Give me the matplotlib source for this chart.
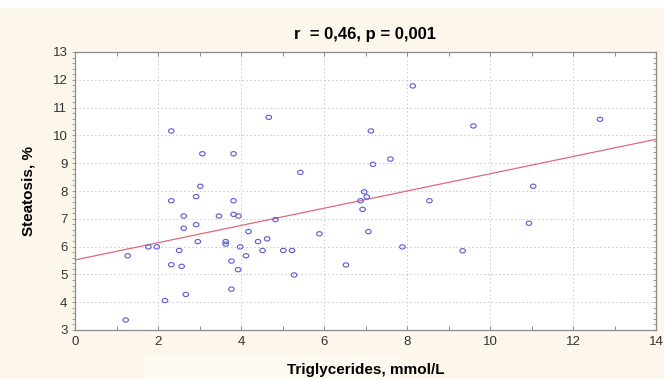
import numpy as np
import matplotlib
matplotlib.use("Agg")
import matplotlib.pyplot as plt
from matplotlib.path import Path
from matplotlib.transforms import Affine2D
from matplotlib.ticker import MultipleLocator

# Triglycerides (mmol/L) and steatosis (%)
triglycerides = [1.22, 1.27, 1.77, 1.97, 2.17, 2.32, 2.32, 2.32, 2.51, 2.57,
                 2.62, 2.62, 2.67, 2.92, 2.92, 2.96, 3.02, 3.07, 3.47, 3.63,
                 3.63, 3.77, 3.77, 3.82, 3.82, 3.82, 3.93, 3.94, 3.98, 4.12,
                 4.18, 4.41, 4.52, 4.63, 4.67, 4.83, 5.02, 5.23, 5.28, 5.43,
                 5.89, 6.53, 6.88, 6.93, 6.97, 7.03, 7.07, 7.13, 7.18, 7.60,
                 7.89, 8.14, 8.54, 9.34, 9.60, 10.94, 11.04, 12.65]
steatosis = [3.36, 5.67, 5.99, 5.99, 4.06, 5.35, 7.65, 10.16, 5.86, 5.29,
             6.66, 7.10, 4.28, 6.79, 7.80, 6.18, 8.17, 9.34, 7.10, 6.18,
             6.09, 4.47, 5.48, 7.65, 7.16, 9.34, 5.17, 7.10, 5.99, 5.67,
             6.54, 6.18, 5.86, 6.28, 10.65, 6.97, 5.86, 5.86, 4.98, 8.67,
             6.46, 5.34, 7.65, 7.34, 7.97, 7.79, 6.54, 10.16, 8.96, 9.15,
             5.99, 11.78, 7.65, 5.85, 10.34, 6.84, 8.17, 10.58]

# regression line as drawn in the chart
fit_intercept = 5.52
fit_slope = 0.31

title = "r  = 0,46, p = 0,001"
xlabel = "Triglycerides, mmol/L"
ylabel = "Steatosis, %"

plt.rcParams["font.family"] = ["Liberation Sans", "DejaVu Sans"]

cream = "#FCF7EA"
fig = plt.figure(figsize=(6.64, 3.79), dpi=100, facecolor=cream)
ax = fig.add_axes([75 / 664, 49 / 379, 581 / 664, 278 / 379])
ax.set_facecolor("white")

# white strip at the top and faint box behind the x label
fig.patches.append(plt.Rectangle((0, 1 - 8 / 379), 1, 8 / 379, transform=fig.transFigure,
                                 facecolor="white", edgecolor="none", zorder=-1))
fig.patches.append(plt.Rectangle((145 / 664, 0), 253 / 664, 24 / 379, transform=fig.transFigure,
                                 facecolor="#FEFAF2", edgecolor="none", zorder=-1))

# slightly squashed circle marker
ellipse = Path.unit_circle().transformed(Affine2D().scale(1.3, 1.0))
ax.scatter(triglycerides, steatosis, marker=ellipse, s=16, facecolors="none",
           edgecolors="#5B5BD6", linewidths=0.8, zorder=3)

xs = np.array([0, 14])
ax.plot(xs, fit_intercept + fit_slope * xs, color="#E0697A", linewidth=0.9, zorder=2)

ax.set_xlim(0, 14)
ax.set_ylim(3, 13)
ax.xaxis.set_major_locator(MultipleLocator(2))
ax.xaxis.set_minor_locator(MultipleLocator(1))
ax.yaxis.set_major_locator(MultipleLocator(1))
ax.yaxis.set_minor_locator(MultipleLocator(0.2))

ax.grid(True, which="major", linestyle=(0, (1.5, 2.5)), color="#C9C9C9", linewidth=0.7)
ax.set_axisbelow(True)

for s in ax.spines.values():
    s.set_color("#8C8C8C")
    s.set_linewidth(0.9)

ax.tick_params(axis="x", which="both", direction="in", top=True, bottom=True,
               color="#8C8C8C", length=3, width=0.7, labelsize=9.5, labelcolor="#333333", pad=4)
ax.tick_params(axis="y", which="both", direction="out", left=True, right=False,
               color="#8C8C8C", length=2.5, width=0.6, labelsize=9.5, labelcolor="#333333", pad=3)

# right-hand minor ticks pointing inward
ry = ax.secondary_yaxis("right")
ry.yaxis.set_major_locator(MultipleLocator(1))
ry.yaxis.set_minor_locator(MultipleLocator(0.2))
ry.tick_params(axis="y", which="both", direction="in", length=2.5, width=0.6,
               color="#8C8C8C", labelright=False)
ry.spines["right"].set_color("#8C8C8C")

ax.set_title(title, fontsize=12, fontweight="bold", pad=9)
ax.set_xlabel(xlabel, fontsize=11, fontweight="bold", labelpad=11)
ax.set_ylabel(ylabel, fontsize=11, fontweight="bold", labelpad=12)

fig.savefig("out.png", dpi=100, facecolor=cream)
